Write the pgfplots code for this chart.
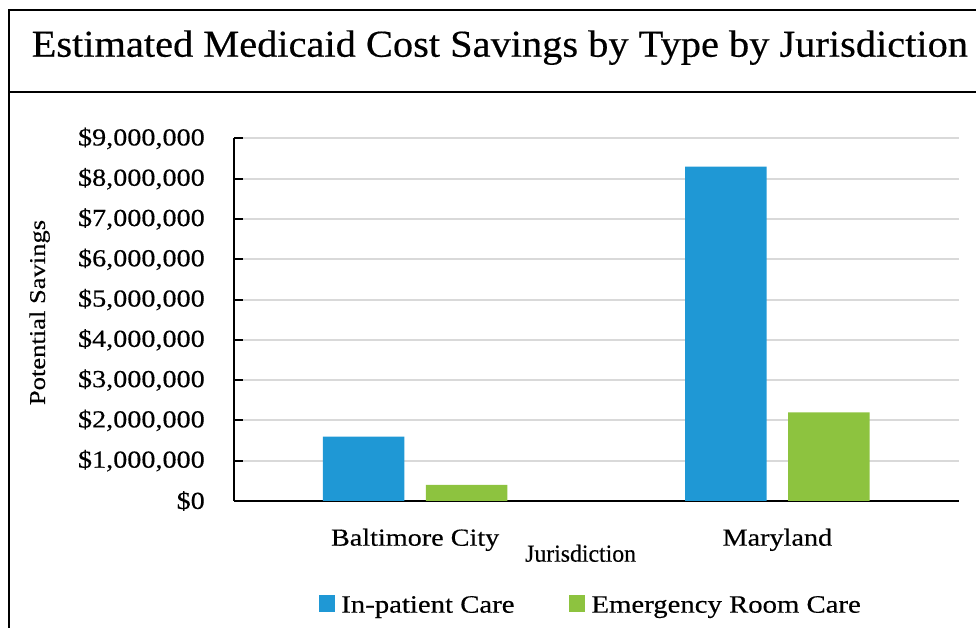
\documentclass[border=0pt]{standalone}
\usepackage{fontspec}
\setmainfont{Liberation Serif}[FakeStretch=1.15, FakeBold=0.4]
\newfontfamily\titlefont{Liberation Serif}[FakeStretch=1.063, FakeBold=0.4]
\newfontfamily\jurfont{Liberation Serif}[FakeStretch=0.97, FakeBold=0.4]
\newfontfamily\ylabfont{Liberation Serif}[FakeStretch=1.18, FakeBold=0.4]
\usepackage{pgfplots}
\pgfplotsset{compat=1.18}
\definecolor{cblue}{RGB}{31,152,213}
\definecolor{cgreen}{RGB}{141,195,63}
\definecolor{cgrid}{RGB}{217,217,217}
\pgfplotsset{mylegend/.style={legend image code/.code={\fill[##1] (0pt,1.1pt) rectangle (16pt,17.8pt);}}}
\begin{document}
\begin{tikzpicture}[x=1pt,y=1pt]
\useasboundingbox (0,0) rectangle (976,628);
\draw[line width=2pt] (9,0) -- (9,618) -- (976,618);
\draw[line width=2pt] (9,535.5) -- (976,535.5);
\node[anchor=base west, inner sep=0pt, font=\titlefont\fontsize{38}{44}\selectfont] at (31.5,571.3) {Estimated Medicaid Cost Savings by Type by Jurisdiction};
\begin{axis}[
  at={(234pt,127pt)}, anchor=south west, scale only axis,
  width=724.5pt, height=362.5pt,
  xmin=-0.5, xmax=1.5, ymin=0, ymax=9000000,
  axis lines*=left,
  axis line style={line width=2.2pt, black},
  ymajorgrids, grid style={cgrid, line width=2pt},
  ytick={0,1000000,2000000,3000000,4000000,5000000,6000000,7000000,8000000,9000000},
  yticklabels={{\$0},{\$1,000,000},{\$2,000,000},{\$3,000,000},{\$4,000,000},{\$5,000,000},{\$6,000,000},{\$7,000,000},{\$8,000,000},{\$9,000,000}},
  scaled y ticks=false,
  ytick pos=left, tick align=inside, major tick length=9pt,
  ytick style={black, line width=2pt},
  xtick={0,1}, xticklabels={Baltimore City, Maryland},
  xtick style={draw=none},
  yticklabel style={anchor=east, inner sep=0pt, xshift=-29pt, font=\fontsize{24.5}{29}\selectfont},
  xticklabel style={anchor=base, inner sep=0pt, yshift=-44.7pt, font=\fontsize{24.5}{29}\selectfont},
  xlabel={Jurisdiction},
  xlabel style={at={(axis description cs:0.4784,0)}, anchor=base, inner sep=0pt, yshift=-60.7pt, font=\jurfont\fontsize{24.5}{29}\selectfont},
  ylabel={Potential Savings},
  ylabel style={at={(axis description cs:-0.2609,0.52)}, anchor=base, inner sep=0pt, font=\ylabfont\fontsize{22.5}{26}\selectfont},
  legend columns=2,
  legend style={at={(axis description cs:0.1177,-0.259)}, anchor=north west, draw=none, fill=none, inner sep=0pt, outer sep=0pt,
    font=\fontsize{25}{29}\selectfont, nodes={inner sep=0pt, anchor=base west},
    /tikz/every odd column/.append style={column sep=6pt},
    /tikz/every even column/.append style={column sep=55pt}},
]
\addplot[ybar, bar width=81.5pt, bar shift=-51.6pt, fill=cblue, draw=none, mylegend] coordinates {(0,1600000) (1,8300000)};
\addlegendentry{In-patient Care}
\addplot[ybar, bar width=81.5pt, bar shift=51.6pt, fill=cgreen, draw=none, mylegend] coordinates {(0,400000) (1,2200000)};
\addlegendentry{Emergency Room Care}
\end{axis}
\end{tikzpicture}
\end{document}
